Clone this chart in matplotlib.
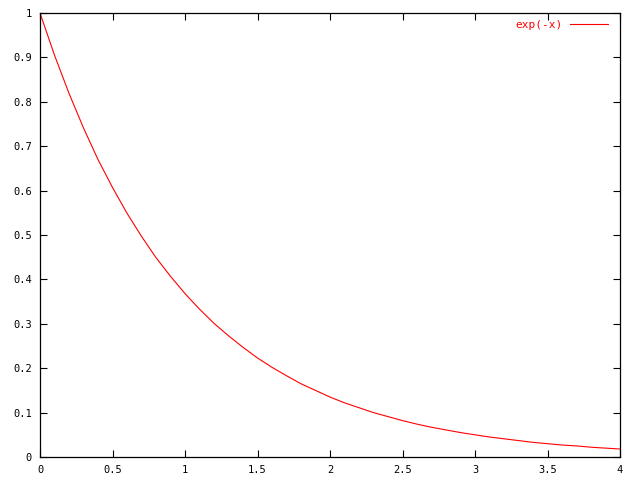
import matplotlib
matplotlib.use('Agg')
import matplotlib.pyplot as plt
from matplotlib.ticker import FormatStrFormatter, MultipleLocator

# values, every 0.1 in x
xs = [0.0, 0.1, 0.2, 0.3, 0.4, 0.5, 0.6, 0.7, 0.8, 0.9,
      1.0, 1.1, 1.2, 1.3, 1.4, 1.5, 1.6, 1.7, 1.8, 1.9,
      2.0, 2.1, 2.2, 2.3, 2.4, 2.5, 2.6, 2.7, 2.8, 2.9,
      3.0, 3.1, 3.2, 3.3, 3.4, 3.5, 3.6, 3.7, 3.8, 3.9, 4.0]
ys = [1.000, 0.905, 0.819, 0.741, 0.670, 0.607, 0.549, 0.497, 0.449, 0.407,
      0.368, 0.333, 0.301, 0.273, 0.247, 0.223, 0.202, 0.183, 0.165, 0.150,
      0.135, 0.122, 0.111, 0.100, 0.091, 0.082, 0.074, 0.067, 0.061, 0.055,
      0.050, 0.045, 0.041, 0.037, 0.033, 0.030, 0.027, 0.025, 0.022, 0.020, 0.018]
label = 'exp(-x)'

plt.rcParams['font.family'] = 'DejaVu Sans Mono'
plt.rcParams['font.size'] = 7.5

fig = plt.figure(figsize=(6.4, 4.8), dpi=100)
ax = fig.add_axes([40 / 640, 23 / 480, 580 / 640, 444 / 480])

ax.plot(xs, ys, color='#ff0000', lw=0.8, label=label)

ax.set_xlim(0, 4)
ax.set_ylim(0, 1)
ax.xaxis.set_major_locator(MultipleLocator(0.5))
ax.yaxis.set_major_locator(MultipleLocator(0.1))
ax.xaxis.set_major_formatter(FormatStrFormatter('%g'))
ax.yaxis.set_major_formatter(FormatStrFormatter('%g'))
ax.tick_params(direction='in', length=5, width=0.8, top=True, right=True,
               pad=6, colors='black')
for s in ax.spines.values():
    s.set_linewidth(0.9)

# key sits a bit higher than the default pad allows
ax.legend(loc='upper right', bbox_to_anchor=(1.0, 1.0 + 5 / 444),
          frameon=False, markerfirst=False,
          handlelength=3.4, labelcolor='#ff0000', borderaxespad=0.7,
          handletextpad=0.7, prop={'size': 8})

fig.savefig('out.png', dpi=100)
